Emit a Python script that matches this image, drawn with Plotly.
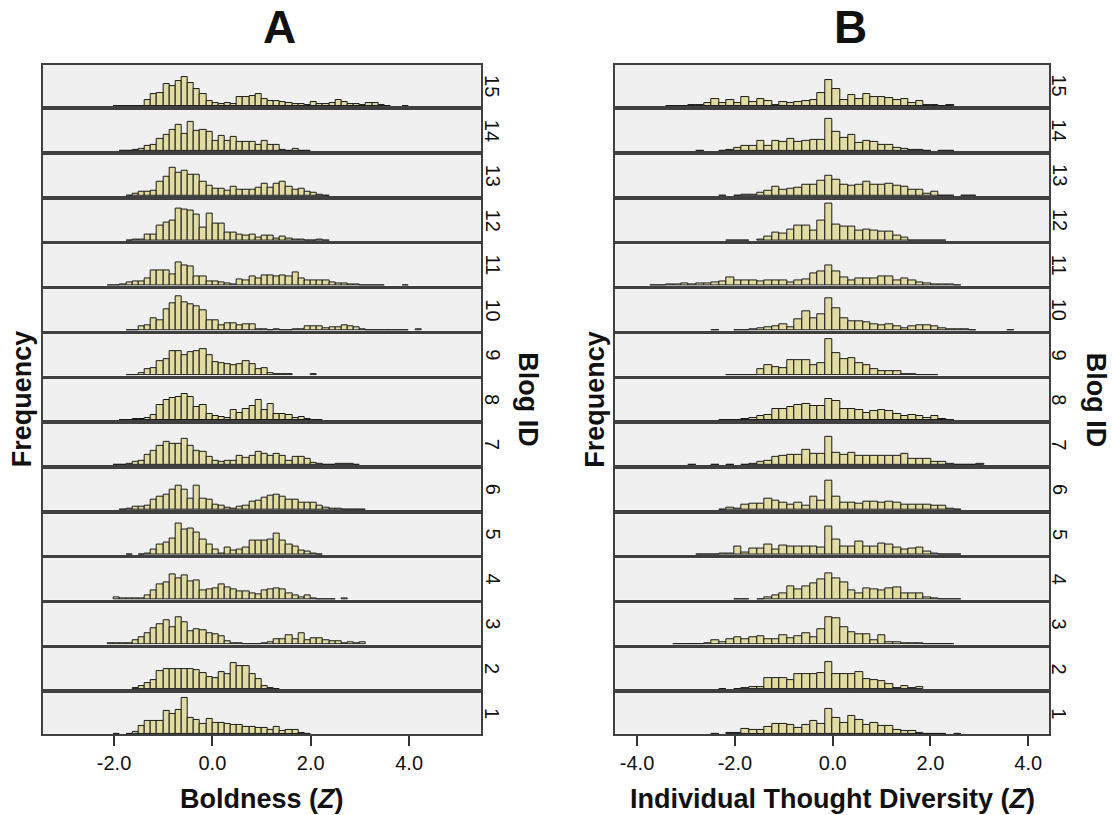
import plotly.graph_objects as go

# ---------------- data (bar heights = frequencies) -------------
BIN_WIDTH_BOLDNESS = 0.125
BIN_WIDTH_DIVERSITY = 0.155

# first bin index of each blog's histogram (bin k spans [k*w, (k+1)*w))
BOLDNESS_FIRST_BIN = [-16, -13, -17, -16, -14, -15, -16, -15, -14, -14, -17, -14, -14, -15, -16]
DIVERSITY_FIRST_BIN = [-16, -15, -21, -13, -18, -15, -19, -15, -14, -16, -24, -14, -15, -18, -22]

BOLDNESS_BLOG_01 = [0.3, 0, 0.7, 2.3, 8, 13, 13, 13.3, 23, 20, 24.7, 36.3, 16.3, 14, 10.7, 15,
                    11.7, 11.7, 10.7, 9.7, 9.7, 7.3, 7.3, 6.7, 6.7, 4, 7.3, 3.3, 4.7, 4, 1.3, 0.7]
BOLDNESS_BLOG_02 = [1.7, 3.3, 6.7, 9.3, 18.3, 20, 20.7, 20.7, 20, 20.7, 19.3, 16.7, 12.7,
                    11.7, 17.7, 15, 26.7, 23.3, 23.3, 15, 10, 3.3, 1.7, 0.7]
BOLDNESS_BLOG_03 = [1, 1, 1, 1.7, 4.3, 7.3, 11.7, 16, 20, 24, 17.7, 27.7, 22.7, 13.3, 15, 14.3, 11,
                    10, 8.3, 3.3, 1.7, 1, 0.7, 0.7, 0.7, 1.7, 2.7, 5, 5, 9, 5, 11, 4, 6.7, 6, 4.3,
                    3.3, 3.3, 1.7, 2.3, 1, 2.3]
BOLDNESS_BLOG_04 = [2.3, 1, 1, 1, 1.7, 4.3, 9, 15, 17.3, 25, 21.7, 24, 18.3, 19, 9, 10.7,
                    11.7, 15, 12.7, 10, 8.3, 8.3, 6.7, 5, 9.3, 10, 11.7, 10.7, 6, 4, 2.7, 4, 1.7,
                    0.7, 0.7, 0.3, 0, 1.7]
BOLDNESS_BLOG_05 = [0.7, 0, 0.7, 1.7, 5.7, 10, 12.3, 16.7, 31.7, 25.7, 26, 22.3, 15.7, 10.7,
                    5.7, 1.7, 7.3, 4, 5, 7.7, 14.3, 14.3, 14.3, 15, 21, 14, 10, 8.3, 4.3, 3.3, 1, 0.3]
BOLDNESS_BLOG_06 = [0.7, 1.3, 3.3, 3.3, 4.7, 10.7, 13, 15, 20, 24.7, 20.7, 11.3, 24, 11.3, 10.7,
                    5.7, 4.7, 2.3, 1.3, 3, 4.7, 8, 9, 12.3, 14.7, 15.7, 13, 10, 10, 7.3, 7.3, 7.3,
                    4, 2.3, 1.7, 1.7, 0.7, 0.7, 0.7, 0.7]
BOLDNESS_BLOG_07 = [0.7, 0.7, 1, 3.3, 4, 10, 14.3, 19, 23.3, 21.7, 21.7, 26.7, 19, 14.3, 13.3, 8.3,
                    4, 3.3, 4.3, 4.3, 9.3, 7.7, 9, 13.3, 11.7, 9.3, 11.7, 9, 4.3, 8.3, 8.3, 6.7,
                    2.3, 1, 0.7, 0.7, 1, 1, 1, 0.7]
BOLDNESS_BLOG_08 = [0.7, 0.7, 1.7, 1.7, 2.3, 5, 15, 20, 22.7, 23.3, 26.7, 23.3, 13.3, 15.7, 6.7,
                    4.3, 3.3, 2.3, 10.7, 7.7, 11.7, 14, 20, 10, 16, 6.7, 6.7, 5, 2.3, 3.3, 1.7,
                    0.7, 0.3]
BOLDNESS_BLOG_09 = [0.7, 0.7, 2.7, 6.7, 7.7, 14, 16, 24.3, 24.3, 20, 23.3, 24, 26.7, 20.7,
                    13.3, 12.7, 11, 10, 11, 14, 11, 6.7, 7.3, 2.3, 1.3, 1.7, 1.7, 0, 0, 0, 1]
BOLDNESS_BLOG_10 = [0.7, 0.7, 4.3, 5.7, 12.7, 10.7, 21, 27.7, 34, 28.3, 26.7, 24.3, 20, 10.7,
                    10, 5.7, 7.3, 7.3, 5, 6.3, 6.3, 1.3, 1, 0.3, 1, 0.7, 0.7, 1, 1, 4, 4, 4.3,
                    2.7, 3.7, 3.7, 5.7, 4.3, 3.3, 1.3, 0.7, 0.7, 0.7, 0.7, 0.7, 0.7, 0.3, 0, 1]
BOLDNESS_BLOG_11 = [0.7, 0.7, 1, 3, 4.7, 4.7, 7.3, 15.7, 15, 15.7, 11.7, 23, 20.7, 19.7, 9.7, 9,
                    4.7, 4, 3, 2.3, 1.3, 6.3, 5.7, 9.7, 7.3, 10, 10, 9, 10, 9, 13, 7.3, 5.7, 5, 5,
                    5, 3.3, 2.3, 2.3, 1.7, 1.3, 0.7, 0.7, 0.3, 0.7, 0, 0, 0, 0.3]
BOLDNESS_BLOG_12 = [0.7, 1, 1.7, 6, 6.7, 15.7, 18.3, 20, 32.7, 31, 30, 26.7, 13.3, 27.3, 17.7,
                    17.3, 8.3, 8.3, 6, 5, 6, 3.3, 5, 5.3, 2.7, 4.3, 2.3, 1.7, 1, 0.7, 0.3, 1, 0.3]
BOLDNESS_BLOG_13 = [0.7, 2.3, 4.3, 4.3, 5.7, 14.3, 19, 28.3, 23.3, 25.7, 21, 21, 14.3, 10, 7.7,
                    7.7, 5, 9, 6.7, 6, 6, 8.3, 12.3, 8.3, 12.7, 14.3, 9, 6.7, 7.3, 4.3, 3.3, 1.7, 0.3]
BOLDNESS_BLOG_14 = [0.3, 0.3, 1, 2.3, 5, 6.7, 12.7, 16, 21, 26.7, 17.3, 29.3, 20.7, 21, 19, 10,
                    15.7, 10, 14, 9.3, 9, 9, 6.7, 10, 6.7, 6.7, 1.7, 0.7, 2.3, 0.3, 0.7]
BOLDNESS_BLOG_15 = [0.3, 0.3, 0.3, 0.3, 0.3, 6.7, 12.3, 13.3, 22.3, 20.7, 25.7, 29, 23.3, 17.7,
                    12.3, 5, 3.3, 2.3, 3.3, 2.3, 9, 9, 10, 12.7, 7.7, 5.7, 5, 4.3, 3.3, 2.3, 2.3,
                    1.7, 4.3, 2.3, 2.7, 3, 6, 4.3, 2.7, 2.3, 1.7, 3.3, 3.3, 1.7, 0.3, 0, 0, 0.5]

DIVERSITY_BLOG_01 = [0.3, 0, 1.7, 1.3, 5.7, 4.7, 4.7, 7.3, 10.7, 10.7, 9.7, 6.3, 9.7, 13, 10.7,
                     25.7, 16.7, 11.7, 18, 14.7, 9, 11.3, 8, 8, 4, 3, 3, 1.3, 0.7, 0.7, 0.7, 0, 0.3]
DIVERSITY_BLOG_02 = [0.3, 0, 0.7, 1.7, 2.7, 2.7, 11.7, 11.7, 11.7, 9, 15, 15, 15, 16.7, 27.3,
                     15.7, 15.7, 15.7, 17.3, 10, 9, 8.3, 5, 1, 3.3, 1, 2.3]
DIVERSITY_BLOG_03 = [0.3, 0.3, 0.7, 0.7, 1.7, 4.3, 2.7, 5.7, 7.7, 5, 7.3, 8.3, 5.7, 5.7, 9, 6.7,
                     8.3, 11.7, 7.7, 15, 27.7, 26.7, 17.7, 12.7, 10.7, 10, 4, 9.3, 2.7, 2.3, 1.7,
                     1.7, 1, 0.7, 0.3, 0.7, 0.7]
DIVERSITY_BLOG_04 = [0.7, 0.7, 0, 0.7, 2.3, 4, 6.7, 13.3, 10, 13.3, 16, 20, 26, 21, 17.7, 9.3,
                     6.7, 11, 10, 9.3, 11.7, 12.3, 6, 6, 6.7, 2.3, 1, 0.7, 0.3, 0.3]
DIVERSITY_BLOG_05 = [0.3, 0.3, 0.7, 1.7, 1, 8.3, 2.3, 6.7, 6.7, 10.7, 5, 9.3, 8.3, 8.3, 8.3, 8.3,
                     7.3, 28.3, 15, 8.3, 8.3, 13.3, 8.3, 8.3, 11.7, 10.7, 7.3, 5.7, 6.7, 7.3, 3.3,
                     1.7, 0.7, 0.7, 0.3]
DIVERSITY_BLOG_06 = [0.7, 2.3, 1.3, 5, 6.3, 6.3, 11.7, 9, 7.3, 5, 7.3, 4, 13, 9.7, 29, 13, 7.3,
                     7.3, 6.3, 8, 8, 7.3, 8, 7.3, 5.7, 5, 5.7, 5, 4, 4.7, 1.3, 0.7]
DIVERSITY_BLOG_07 = [0.7, 0, 0, 0.3, 0, 0.7, 0, 0.7, 1, 3.3, 4.3, 8.3, 9, 10.7, 10.7, 15, 11.7,
                     11.7, 28.3, 12.7, 10, 12.7, 9, 9.3, 9.3, 9.3, 9.3, 9.3, 11.7, 6.7, 6.7, 6,
                     3.3, 3.3, 1, 0.7, 0.7, 0.7, 1]
DIVERSITY_BLOG_08 = [0.3, 0.7, 0.7, 1, 2.3, 4, 5, 11, 11, 13.3, 15.7, 16.7, 14.3, 14.3, 21.7, 19,
                     11.7, 11, 10, 7.7, 9, 10.7, 9, 6.7, 4.3, 5, 4, 2.3, 4, 1.7, 0.7]
DIVERSITY_BLOG_09 = [0.7, 0.7, 0.7, 0.7, 6, 10, 8.3, 7.3, 15.7, 15.7, 15.7, 10, 12.7, 36.7, 22.7,
                     16.7, 17.3, 12.7, 10, 6.7, 4, 4, 4, 1.7, 1, 0.7, 0.3, 0.7]
DIVERSITY_BLOG_10 = [0.7, 0, 0, 0.7, 0.7, 1, 2.3, 3.3, 4, 6, 3.3, 11, 19, 12.3, 16.7, 32.7, 22.7,
                     12.3, 9.3, 9.3, 8.3, 6.7, 5, 6.7, 4.3, 2.7, 4, 5, 5, 4.3, 2.7, 1.7, 1.7, 1,
                     0.3, 0, 0, 0, 0, 0.7]
DIVERSITY_BLOG_11 = [0.7, 0.7, 1, 1.3, 2.3, 1.3, 2.3, 2.3, 3, 4, 8, 5.7, 5.7, 5.7, 4.7, 5.7, 5, 5,
                     3, 5.7, 6.7, 12.3, 14, 20, 14, 8, 5, 7.3, 7.3, 7.3, 9, 9, 5.7, 7.3, 5, 3.3,
                     2.3, 1.3, 1.3, 1.3, 0.7]
DIVERSITY_BLOG_12 = [0.7, 0.7, 0.7, 0, 1.7, 4, 8.3, 7.3, 11.7, 15.7, 15, 10.7, 20, 37.7, 16.7,
                     14.3, 14.3, 10, 11.7, 10, 9.3, 9.3, 5, 3.3, 0.7, 0.7, 0.7, 0.7, 0.7]
DIVERSITY_BLOG_13 = [0.3, 0, 0.7, 1.7, 1.7, 3.3, 5, 9.3, 6, 7.3, 8.3, 11.7, 11, 15.7, 20.7, 16.7,
                     11, 10, 11.7, 14.3, 11, 11, 12.7, 10, 9.3, 6.7, 6, 2.7, 4, 0.7, 0.3, 0, 0.7, 0.7]
DIVERSITY_BLOG_14 = [0.7, 0, 0, 0.7, 1, 3.3, 5, 5, 10.7, 5, 10.7, 9, 12.3, 9, 10, 11, 11, 32.3,
                     19.3, 13.3, 16.7, 8.3, 10.7, 9, 6.7, 6, 3.3, 2.7, 1, 1.7, 0.7, 0, 0.7, 0.7]
DIVERSITY_BLOG_15 = [0.3, 0.3, 0.3, 1.3, 1, 3.3, 7.7, 3.3, 6, 3.7, 9, 4.3, 7.3, 5, 1.7, 4, 3.3,
                     4.3, 5, 6.7, 13.3, 26.7, 17.7, 6.7, 11.7, 7.7, 12.7, 9.3, 9.3, 8.3, 6.7, 7.7,
                     3.3, 5, 1.7, 1.7, 0.3, 1]

BLOG_IDS = list(range(1, 16))
X_TICK_VALUES = [[-2, 0, 2, 4], [-4, -2, 0, 2, 4]]
X_TICK_LABELS = [["-2.0", "0.0", "2.0", "4.0"], ["-4.0", "-2.0", "0.0", "2.0", "4.0"]]
X_RANGES = [[-3.45, 5.455], [-4.445, 4.43]]
PANEL_LETTERS = ["A", "B"]
X_TITLES = ["Boldness (<i>Z</i>)", "Individual Thought Diversity (<i>Z</i>)"]

BOLDNESS = [BOLDNESS_BLOG_01, BOLDNESS_BLOG_02, BOLDNESS_BLOG_03, BOLDNESS_BLOG_04, BOLDNESS_BLOG_05,
            BOLDNESS_BLOG_06, BOLDNESS_BLOG_07, BOLDNESS_BLOG_08, BOLDNESS_BLOG_09, BOLDNESS_BLOG_10,
            BOLDNESS_BLOG_11, BOLDNESS_BLOG_12, BOLDNESS_BLOG_13, BOLDNESS_BLOG_14, BOLDNESS_BLOG_15]
DIVERSITY = [DIVERSITY_BLOG_01, DIVERSITY_BLOG_02, DIVERSITY_BLOG_03, DIVERSITY_BLOG_04,
             DIVERSITY_BLOG_05, DIVERSITY_BLOG_06, DIVERSITY_BLOG_07, DIVERSITY_BLOG_08,
             DIVERSITY_BLOG_09, DIVERSITY_BLOG_10, DIVERSITY_BLOG_11, DIVERSITY_BLOG_12,
             DIVERSITY_BLOG_13, DIVERSITY_BLOG_14, DIVERSITY_BLOG_15]

# ---------------- layout geometry (pixels) ----------------
W, H = 1113, 815
PANEL_X = [(42.7, 480.7), (615.3, 1049.3)]
ROW1_BOTTOM = 734.3
ROW_PITCH = 44.85
ROW_HEIGHT = 41.35
Y_MAX = 41.35

FONT = "Arial, 'Liberation Sans', Helvetica, sans-serif"
BAR_FILL = "#E2DCA3"
BAR_LINE = "#1a1a1a"
FRAME = "#404040"
PANEL_BG = "#F0F0F0"


def fx(px):
    return px / W


def fy(py):
    return 1 - py / H


fig = go.Figure()
layout = {}
annotations = []

panels = [(BOLDNESS, BOLDNESS_FIRST_BIN, BIN_WIDTH_BOLDNESS),
          (DIVERSITY, DIVERSITY_FIRST_BIN, BIN_WIDTH_DIVERSITY)]

for p, (series, firsts, w) in enumerate(panels):
    x0, x1 = PANEL_X[p]
    for b in BLOG_IDS:
        n = p * 15 + b
        heights = series[b - 1]
        first = firsts[b - 1]
        xs, ys = [], []
        for i, h in enumerate(heights):
            if h > 0:
                xs.append((first + i + 0.5) * w)
                ys.append(h)
        xa = "x" if n == 1 else f"x{n}"
        ya = "y" if n == 1 else f"y{n}"
        fig.add_trace(go.Bar(
            x=xs, y=ys, width=w, xaxis=xa, yaxis=ya,
            marker=dict(color=BAR_FILL, line=dict(color=BAR_LINE, width=1)),
            showlegend=False, hoverinfo="skip"))
        bottom = ROW1_BOTTOM - (b - 1) * ROW_PITCH
        top = bottom - ROW_HEIGHT
        key = "" if n == 1 else str(n)
        is_bottom = (b == 1)
        layout["xaxis" + key] = dict(
            domain=[fx(x0), fx(x1)], anchor=ya, range=X_RANGES[p],
            showgrid=False, zeroline=False, showline=True, mirror=True,
            linecolor=FRAME, linewidth=1.5,
            tickvals=X_TICK_VALUES[p], ticktext=X_TICK_LABELS[p],
            ticks="outside" if is_bottom else "", ticklen=10, tickwidth=1.5,
            tickcolor="#333333", showticklabels=is_bottom,
            tickfont=dict(family=FONT, size=20, color="#111111"),
            ticklabelstandoff=0, fixedrange=True)
        layout["yaxis" + key] = dict(
            domain=[fy(bottom), fy(top)], anchor=xa, range=[0, Y_MAX],
            showgrid=False, zeroline=False, showline=True, mirror=True,
            linecolor=FRAME, linewidth=1.5, showticklabels=False, ticks="",
            fixedrange=True)
        # blog id label (rotated)
        annotations.append(dict(
            text=str(b), x=fx(x1 + (12 if p == 0 else 10)), y=fy((top + bottom) / 2),
            xref="paper", yref="paper", showarrow=False, textangle=90,
            xanchor="center", yanchor="middle",
            font=dict(family=FONT, size=20, color="#111111")))
    cx = (x0 + x1) / 2
    annotations.append(dict(text=f"<b>{PANEL_LETTERS[p]}</b>", x=fx(cx + 18), y=fy(27),
                            xref="paper", yref="paper", showarrow=False,
                            xanchor="center", yanchor="middle",
                            font=dict(family=FONT, size=46, color="#111111")))
    annotations.append(dict(text=f"<b>{X_TITLES[p]}</b>", x=fx(cx), y=fy(799),
                            xref="paper", yref="paper", showarrow=False,
                            xanchor="center", yanchor="middle",
                            font=dict(family=FONT, size=27, color="#111111")))
    annotations.append(dict(text="<b>Frequency</b>", x=fx(x0 - 20.5), y=fy(399),
                            xref="paper", yref="paper", showarrow=False, textangle=-90,
                            xanchor="center", yanchor="middle",
                            font=dict(family=FONT, size=27, color="#111111")))
    annotations.append(dict(text="<b>Blog ID</b>", x=fx(x1 + 47), y=fy(400),
                            xref="paper", yref="paper", showarrow=False, textangle=90,
                            xanchor="center", yanchor="middle",
                            font=dict(family=FONT, size=27, color="#111111")))

fig.update_layout(
    width=W, height=H, autosize=False,
    margin=dict(l=0, r=0, t=0, b=0),
    paper_bgcolor="white", plot_bgcolor=PANEL_BG,
    bargap=0, barmode="overlay",
    annotations=annotations,
    **layout)

fig.write_html("out.html", config={"displayModeBar": False},
               post_script="document.body.style.margin='0';document.body.style.overflow='hidden';")
